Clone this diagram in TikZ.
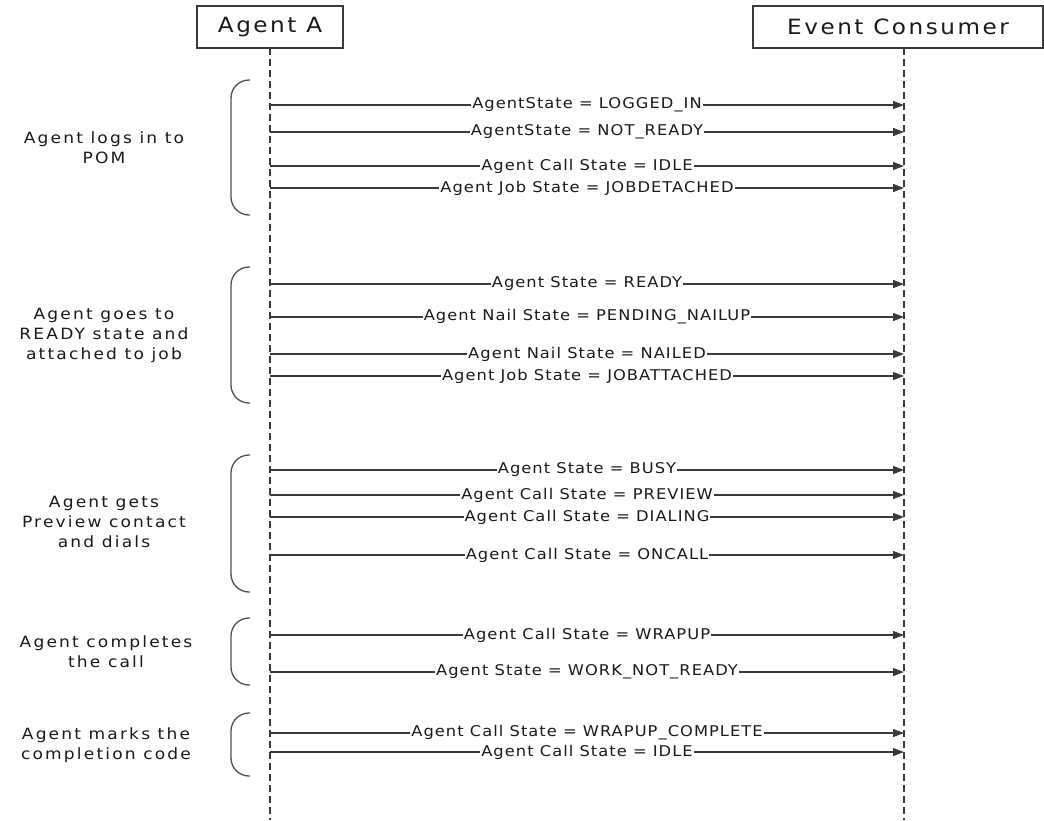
\documentclass[tikz,border=0pt]{standalone}
\usepackage{fontspec}
\setmainfont{DejaVu Sans}
\newfontfamily\headfont[LetterSpace=12,FakeStretch=1.1]{DejaVu Sans}
\newfontfamily\lblfont[LetterSpace=7,FakeStretch=1.1]{DejaVu Sans}
\newfontfamily\notefont[LetterSpace=14,FakeStretch=1.1]{DejaVu Sans}
\usetikzlibrary{arrows.meta}
\definecolor{linegray}{HTML}{3A3A3A}
\definecolor{bracegray}{HTML}{505050}
\definecolor{textgray}{HTML}{1A1A1A}
\tikzset{
  head/.style={draw=linegray, line width=1.3pt, fill=white, minimum height=42pt,
    inner sep=0pt, text=textgray, font=\headfont\fontsize{21}{24}\selectfont},
  lifeline/.style={draw=linegray, line width=1.4pt, dash pattern=on 7pt off 4pt},
  msg/.style={draw=linegray, line width=1.2pt, -{Triangle[length=11pt,width=8pt]}},
  lbl/.style={fill=white, inner xsep=1pt, inner ysep=0pt, text=textgray,
    font=\lblfont\fontsize{14.8}{17}\selectfont},
  grp/.style={draw=bracegray, line width=1.3pt, rounded corners=18pt},
  note/.style={align=center, text=textgray, font=\notefont\fontsize{15.5}{20}\selectfont}
}
\begin{document}
\begin{tikzpicture}[x=1pt,y=-1pt]
  \useasboundingbox[fill=white] (0,0) rectangle (1044,820);

  % participants and their lifelines
  \coordinate (Aend) at (270,820);
  \coordinate (Eend) at (904,820);
  \draw[lifeline] (270,48) -- (Aend);
  \draw[lifeline] (904,48) -- (Eend);
  \node[head, minimum width=146pt] (A) at (270,27) {Agent A};
  \node[head, minimum width=290pt] (E) at (898,27) {Event Consumer};

  % messages from Agent A to the Event Consumer
  \foreach \y/\txt [count=\i] in {
      105/AgentState = LOGGED\_IN,
      132/AgentState = NOT\_READY,
      166/Agent Call State = IDLE,
      188/Agent Job State = JOBDETACHED,
      284/Agent State = READY,
      317/Agent Nail State = PENDING\_NAILUP,
      354/Agent Nail State = NAILED,
      376/Agent Job State = JOBATTACHED,
      470/Agent State = BUSY,
      495/Agent Call State = PREVIEW,
      517/Agent Call State = DIALING,
      555/Agent Call State = ONCALL,
      635/Agent Call State = WRAPUP,
      672/Agent State = WORK\_NOT\_READY,
      733/Agent Call State = WRAPUP\_COMPLETE,
      752/Agent Call State = IDLE}{
    \coordinate (a\i) at (270,\y);
    \coordinate (e\i) at (904,\y);
    \draw[msg] (a\i) -- node[lbl] (m\i) {\txt} (e\i);
  }

  % phase brackets
  \foreach \t/\b [count=\i] in {80/215, 267/403, 455/592, 618/685, 713/776}{
    \draw[grp] (250,\t) -- (231,\t) -- (231,\b) -- (250,\b);
  }

  % phase descriptions
  \node[note] (n1) at (104,148) {Agent logs in to\\POM};
  \node[note] (n2) at (104,335) {Agent goes to\\READY state and\\attached to job};
  \node[note] (n3) at (104,522) {Agent gets\\Preview contact\\and dials};
  \node[note] (n4) at (106,652) {Agent completes\\the call};
  \node[note] (n5) at (106,745) {Agent marks the\\completion code};
\end{tikzpicture}
\end{document}
